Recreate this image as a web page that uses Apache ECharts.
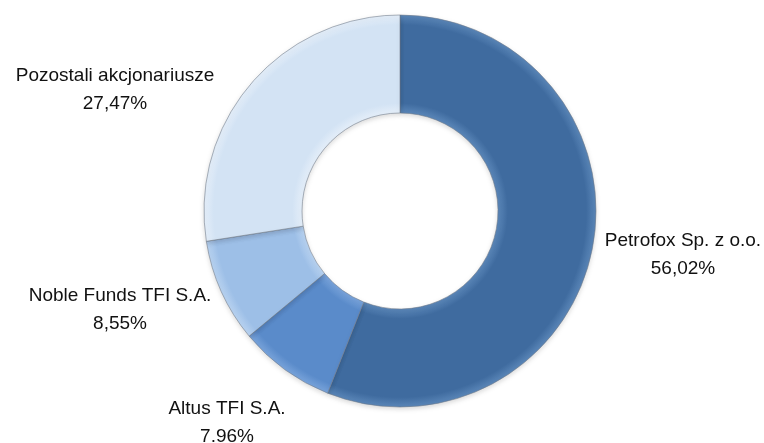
<!DOCTYPE html>
<html>
<head>
<meta charset="utf-8">
<style>
    html, body { margin: 0; padding: 0; background: #fff; }
    #shareholders { width: 764px; height: 443px; }
</style>
<script src="https://cdn.jsdelivr.net/npm/echarts@6/dist/echarts.min.js"></script>
</head>
<body>
<div id="shareholders"></div>
<script>
// Chart data
var categories = ['Petrofox Sp. z o.o.', 'Altus TFI S.A.', 'Noble Funds TFI S.A.', 'Pozostali akcjonariusze'];
var values = [56.02, 7.96, 8.55, 27.47];
var valueLabels = ['56,02%', '7.96%', '8,55%', '27,47%'];

var EchartsShareholders = function() {

    var _donutExample = function() {
        if (typeof echarts == 'undefined') {
            console.warn('Warning - echarts.min.js is not loaded.');
            return;
        }

        var donut_element = document.getElementById('shareholders');
        if (!donut_element) return;

        var donut = echarts.init(donut_element);

        // Styles
        var cx = 400, cy = 211, rOuter = 196, rInner = 98;
        var sliceColors = ['#3f6b9f', '#5a8bca', '#9dbfe7', '#d3e3f4'],
            sliceEdges = ['#5a86b8', '#78a3da', '#b8d2f0', '#e4eef9'],
            sliceBorder = 'rgba(110,120,135,0.7)',
            labelColor = '#111';

        // Bevel-like radial shading
        var bevel = function(base, edge) {
            return {
                type: 'radial', x: cx, y: cy, r: rOuter, global: true,
                colorStops: [
                    { offset: 0, color: edge },
                    { offset: rInner / rOuter, color: edge },
                    { offset: rInner / rOuter + 0.05, color: base },
                    { offset: 0.95, color: base },
                    { offset: 1, color: edge }
                ]
            };
        };

        // Label anchors (centre x, first line y)
        var labelPos = [
            [683, 227],
            [227, 395],
            [120, 282],
            [115, 62]
        ];

        donut.setOption({
            animation: false,
            textStyle: {
                fontFamily: '"Liberation Sans Narrow", "Arial Narrow", "Liberation Sans", Arial, sans-serif'
            },
            series: [{
                type: 'pie',
                center: [cx, cy],
                radius: [rInner, rOuter],
                startAngle: 90,
                clockwise: true,
                avoidLabelOverlap: false,
                data: categories.map(function(name, i) {
                    return {
                        name: name,
                        value: values[i],
                        itemStyle: { color: bevel(sliceColors[i], sliceEdges[i]) }
                    };
                }),
                itemStyle: {
                    borderColor: sliceBorder,
                    borderWidth: 0.8,
                    shadowColor: 'rgba(0,0,0,0.15)',
                    shadowBlur: 5,
                    shadowOffsetY: 2
                },
                label: {
                    show: true,
                    position: 'outside',
                    color: labelColor,
                    fontSize: 19,
                    lineHeight: 28,
                    align: 'center',
                    formatter: function(p) {
                        return p.name + '\n' + valueLabels[p.dataIndex];
                    }
                },
                labelLine: { show: false },
                labelLayout: function(params) {
                    var pos = labelPos[params.dataIndex];
                    return {
                        x: pos[0],
                        y: pos[1],
                        align: 'center',
                        verticalAlign: 'top'
                    };
                },
                emphasis: { disabled: true }
            }]
        });

        window.addEventListener('resize', function() {
            donut.resize();
        });
    };

    return {
        init: function() {
            _donutExample();
        }
    }
}();

document.addEventListener('DOMContentLoaded', function() {
    EchartsShareholders.init();
});
</script>
</body>
</html>
